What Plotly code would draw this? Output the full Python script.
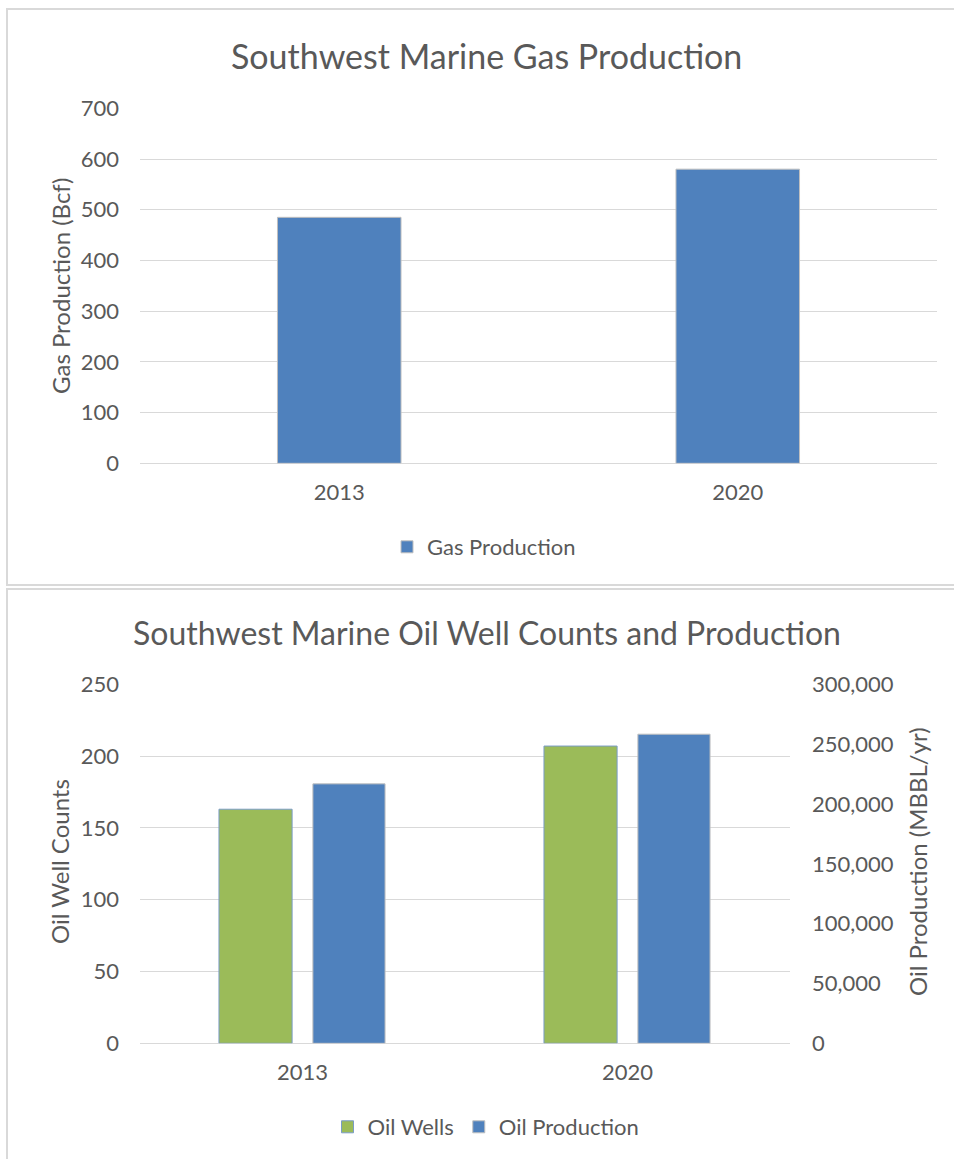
import plotly.graph_objects as go

# Data
years = ["2013", "2020"]
gas_production_bcf = [485, 580]
oil_wells = [163, 207]
oil_production_mbbl = [216800, 258300]

W, H = 954, 1159
FONT = "Lato"
TXT = "#595959"
GRID = "#d9d9d9"
BLUE = "#4f81bd"
GREEN = "#9bbb59"


def px_x(p):
    return p / W


def px_y(p):
    return 1 - p / H


fig = go.Figure()

# Top panel: gas production
fig.add_trace(go.Bar(
    x=years, y=gas_production_bcf, name="Gas Production",
    marker=dict(color=BLUE, line=dict(color="#bfbfbf", width=1)),
    width=0.31, xaxis="x", yaxis="y", legend="legend",
))

# Bottom panel: oil wells (left axis) and oil production (right axis)
fig.add_trace(go.Bar(
    x=years, y=oil_wells, name="Oil Wells",
    marker=dict(color=GREEN, line=dict(color="#7a9cc6", width=1)),
    offset=-0.257, width=0.225, xaxis="x2", yaxis="y2", legend="legend2",
))
fig.add_trace(go.Bar(
    x=years, y=oil_production_mbbl, name="Oil Production",
    marker=dict(color=BLUE, line=dict(color="#bfbfbf", width=1)),
    offset=0.032, width=0.222, xaxis="x2", yaxis="y3", legend="legend2",
))

tickfont = dict(family=FONT, size=22, color=TXT)
legfont = dict(family=FONT, size=22, color=TXT)

fig.update_layout(
    width=W, height=H,
    margin=dict(l=0, r=0, t=0, b=0, autoexpand=False),
    paper_bgcolor="white", plot_bgcolor="white",
    barmode="overlay",
    font=dict(family=FONT, color=TXT),
    xaxis=dict(domain=[px_x(140), px_x(937)], anchor="y", type="category",
               tickfont=tickfont, showgrid=False, showline=False,
               ticks="", ticklabelstandoff=14, automargin=False),
    yaxis=dict(domain=[px_y(463.3), px_y(108.3)], anchor="x",
               range=[0, 700], dtick=100, tickfont=tickfont,
               showgrid=True, gridcolor=GRID, gridwidth=1,
               zeroline=True, zerolinecolor=GRID, zerolinewidth=1,
               showline=False, ticks="", ticklabelstandoff=20,
               automargin=False),
    xaxis2=dict(domain=[px_x(140), px_x(790)], anchor="y2", type="category",
                tickfont=tickfont, showgrid=False, showline=False,
                ticks="", ticklabelstandoff=14, automargin=False),
    yaxis2=dict(domain=[px_y(1043.3), px_y(684.3)], anchor="x2",
                range=[0, 250], dtick=50, tickfont=tickfont,
                showgrid=True, gridcolor=GRID, gridwidth=1,
                zeroline=True, zerolinecolor=GRID, zerolinewidth=1,
                showline=False, ticks="", ticklabelstandoff=20,
                automargin=False),
    yaxis3=dict(overlaying="y2", side="right", anchor="x2",
                range=[0, 300000], dtick=50000, tickformat=",",
                tickfont=tickfont, showgrid=False, zeroline=False,
                showline=False, ticks="", ticklabelstandoff=21,
                automargin=False),
    legend=dict(orientation="h", x=px_x(484), y=px_y(547),
                xanchor="center", yanchor="middle", font=legfont,
                bgcolor="rgba(0,0,0,0)"),
    legend2=dict(orientation="h", x=px_x(486), y=px_y(1127),
                 xanchor="center", yanchor="middle", font=legfont,
                 bgcolor="rgba(0,0,0,0)"),
    showlegend=True,
)

# Panel frames
for y0, y1 in [(9, 585), (589, 1168)]:
    fig.add_shape(type="rect", xref="paper", yref="paper",
                  x0=px_x(7), x1=px_x(960), y0=px_y(y1), y1=px_y(y0),
                  line=dict(color=GRID, width=2), fillcolor="rgba(0,0,0,0)",
                  layer="below")

# Titles and axis titles
notes = [
    ("Southwest Marine Gas Production", 486, 55, 34, 0),
    ("Southwest Marine Oil Well Counts and Production", 487, 632, 32, 0),
    ("Gas Production (Bcf)", 60, 286, 24, -90),
    ("Oil Well Counts", 59, 862, 24, -90),
    ("Oil Production (MBBL/yr)", 917, 862, 24, -90),
]
for text, x, y, size, ang in notes:
    fig.add_annotation(text=text, xref="paper", yref="paper",
                       x=px_x(x), y=px_y(y), xanchor="center", yanchor="middle",
                       showarrow=False, textangle=ang,
                       font=dict(family=FONT, size=size, color=TXT))

fig.write_html("out.html")
